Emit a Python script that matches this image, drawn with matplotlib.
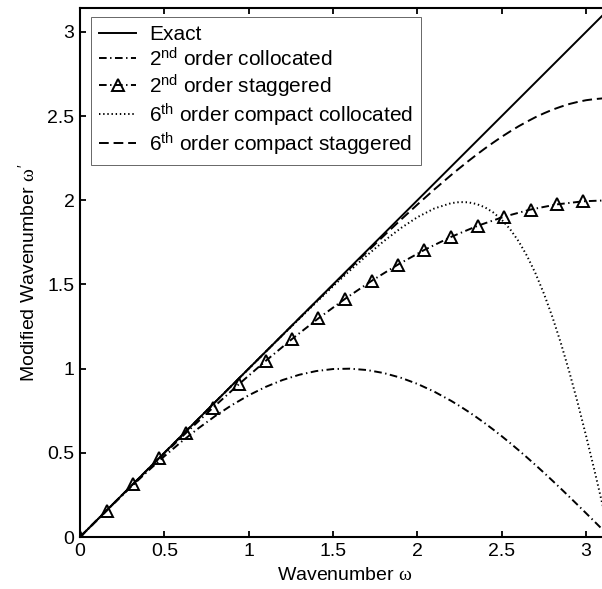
import numpy as np
import matplotlib
matplotlib.use("Agg")
import matplotlib.pyplot as plt

plt.rcParams['font.family'] = ['Liberation Sans', 'DejaVu Sans']
plt.rcParams['mathtext.fontset'] = 'custom'
plt.rcParams['mathtext.rm'] = 'Liberation Sans'
plt.rcParams['mathtext.it'] = 'Liberation Serif'
plt.rcParams['lines.scale_dashes'] = False

PI = 3.14159

# Exact relation
w_exact = [0.0, PI]
k_exact = [0.0, PI]

# Wavenumber grid for the smooth curves
w_grid = [0.0, 0.1, 0.2, 0.3, 0.4, 0.5, 0.6, 0.7, 0.8, 0.9, 1.0, 1.1, 1.2, 1.3,
          1.4, 1.5, 1.6, 1.7, 1.8, 1.9, 2.0, 2.1, 2.2, 2.25, 2.3, 2.35, 2.4, 2.45,
          2.5, 2.55, 2.6, 2.65, 2.7, 2.75, 2.8, 2.85, 2.9, 2.95, 3.0, 3.05, 3.1, PI]

# 2nd order collocated
k_col2 = [0.0, 0.0998, 0.1987, 0.2955, 0.3894, 0.4794, 0.5646, 0.6442, 0.7174,
          0.7833, 0.8415, 0.8912, 0.9320, 0.9636, 0.9854, 0.9975, 0.9996, 0.9917,
          0.9738, 0.9463, 0.9093, 0.8632, 0.8085, 0.7781, 0.7457, 0.7115, 0.6755,
          0.6378, 0.5985, 0.5577, 0.5155, 0.4720, 0.4274, 0.3817, 0.3350, 0.2875,
          0.2392, 0.1904, 0.1411, 0.0915, 0.0416, 0.0]

# 6th order compact collocated
k_cc6 = [0.0, 0.1000, 0.2000, 0.2999, 0.3998, 0.5000, 0.6000, 0.7000, 0.8000,
         0.8997, 0.9995, 1.0989, 1.1979, 1.2964, 1.3935, 1.4893, 1.5825, 1.6720,
         1.7562, 1.8331, 1.8993, 1.9509, 1.9827, 1.9891, 1.9877, 1.9777, 1.9580,
         1.9270, 1.8838, 1.8274, 1.7559, 1.6688, 1.5655, 1.4449, 1.3070, 1.1526,
         0.9819, 0.7971, 0.5999, 0.3933, 0.1800, 0.0]

# 6th order compact staggered
k_cs6 = [0.0, 0.1000, 0.2000, 0.3000, 0.4000, 0.5000, 0.6000, 0.7000, 0.8000,
         0.9000, 0.9998, 1.0997, 1.1994, 1.2988, 1.3980, 1.4968, 1.5949, 1.6920,
         1.7880, 1.8823, 1.9744, 2.0638, 2.1496, 2.1907, 2.2310, 2.2697, 2.3072,
         2.3426, 2.3769, 2.4088, 2.4393, 2.4670, 2.4932, 2.5162, 2.5375, 2.5553,
         2.5714, 2.5838, 2.5940, 2.6005, 2.6050, 2.6061]

# 2nd order staggered (sampled at the marker positions)
w_stag2 = [0.0, 0.1571, 0.3142, 0.4712, 0.6283, 0.7854, 0.9425, 1.0996, 1.2566,
           1.4137, 1.5708, 1.7279, 1.8850, 2.0420, 2.1991, 2.3562, 2.5133, 2.6704,
           2.8274, 2.9845, PI]
k_stag2 = [0.0, 0.1569, 0.3129, 0.4669, 0.6180, 0.7654, 0.9080, 1.0450, 1.1756,
           1.2989, 1.4142, 1.5208, 1.6180, 1.7053, 1.7820, 1.8478, 1.9021, 1.9447,
           1.9754, 1.9938, 2.0]

labels = ['Exact',
          r'2$^{\mathrm{nd}}$ order collocated',
          r'2$^{\mathrm{nd}}$ order staggered',
          r'6$^{\mathrm{th}}$ order compact collocated',
          r'6$^{\mathrm{th}}$ order compact staggered']

W, H = 602, 589
fig = plt.figure(figsize=(W / 100, H / 100), dpi=100)
ax = fig.add_axes([80 / W, (H - 537) / H, 530 / W, 529 / H])

lw = 1.4
dashdot = (0, (5.5, 2.5, 1.0, 2.5))
ax.plot(w_exact, k_exact, color='black', lw=lw, ls='-', label=labels[0])
ax.plot(w_grid, k_col2, color='black', lw=lw, ls=dashdot, label=labels[1])
ax.plot(w_stag2, k_stag2, color='black', lw=lw, ls=dashdot, marker='^',
        markersize=8, markerfacecolor='none', markeredgewidth=1.4,
        markevery=list(range(20)), label=labels[2])
ax.plot(w_grid, k_cc6, color='black', lw=lw, ls=(0, (1.0, 2.0)), label=labels[3])
ax.plot(w_grid, k_cs6, color='black', lw=lw, ls=(0, (7.0, 3.5)), label=labels[4])

ax.set_xlim(0, PI)
ax.set_ylim(0, PI)
ax.set_xticks([0, 0.5, 1, 1.5, 2, 2.5, 3])
ax.set_yticks([0, 0.5, 1, 1.5, 2, 2.5, 3])
ax.set_xticklabels(['0', '0.5', '1', '1.5', '2', '2.5', '3'])
ax.set_yticklabels(['0', '0.5', '1', '1.5', '2', '2.5', '3'])
ax.tick_params(direction='in', length=4.5, width=1.3, top=True, right=True,
               labelsize=14, pad=4)
for s in ax.spines.values():
    s.set_linewidth(1.5)

ax.set_xlabel(r'Wavenumber $\omega$', fontsize=14, labelpad=5)
ax.set_ylabel(r"Modified Wavenumber $\omega'$", fontsize=14, labelpad=6)

leg = ax.legend(loc='upper left', bbox_to_anchor=(0.02, 0.983), fontsize=15,
                frameon=True, fancybox=False, edgecolor='#404040',
                handlelength=1.8, handletextpad=0.6, labelspacing=0.13,
                borderpad=0.4, borderaxespad=0.0)
leg.get_frame().set_linewidth(0.7)

fig.savefig('out.png', dpi=100)
